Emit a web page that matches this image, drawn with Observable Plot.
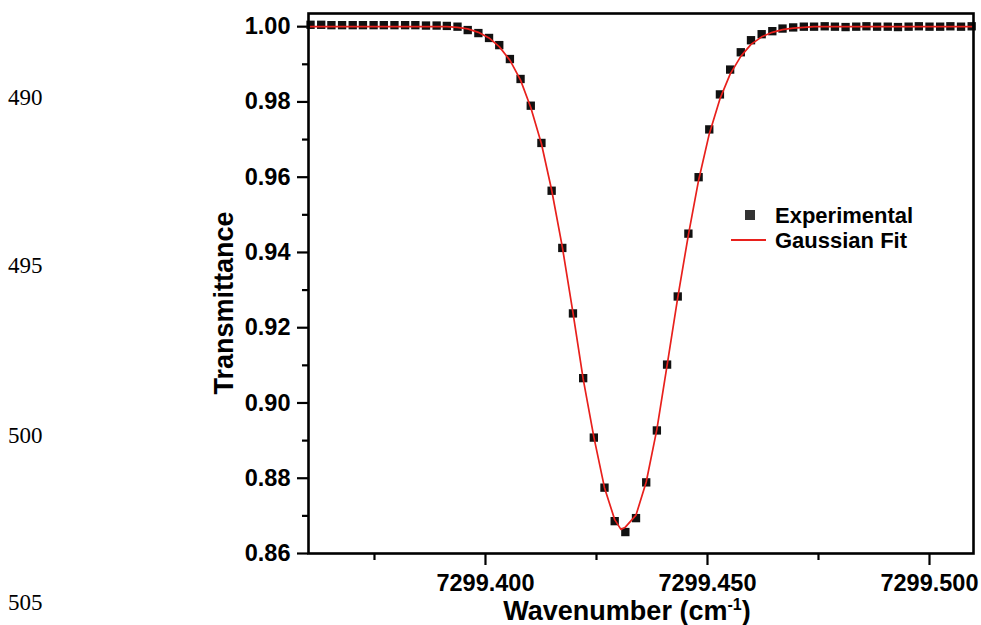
<!DOCTYPE html>
<html>
<head>
<meta charset="utf-8">
<script src="https://cdn.jsdelivr.net/npm/d3@7"></script>
<script src="https://cdn.jsdelivr.net/npm/@observablehq/plot@0.6"></script>
<style>
  html, body { margin: 0; padding: 0; background: #fff; }
  #chart { width: 981px; height: 625px; }
</style>
</head>
<body>
<div id="chart"></div>
<script>
// Experimental data (wavenumber in cm^-1, transmittance)
const wavenumber = [
  7299.3606, 7299.3630, 7299.3653, 7299.3677, 7299.3701, 7299.3724, 7299.3748, 7299.3771,
  7299.3795, 7299.3819, 7299.3842, 7299.3866, 7299.3890, 7299.3913, 7299.3937, 7299.3960,
  7299.3984, 7299.4008, 7299.4031, 7299.4055, 7299.4079, 7299.4102, 7299.4126, 7299.4149,
  7299.4173, 7299.4197, 7299.4220, 7299.4244, 7299.4268, 7299.4291, 7299.4315, 7299.4339,
  7299.4362, 7299.4386, 7299.4409, 7299.4433, 7299.4457, 7299.4480, 7299.4504, 7299.4528,
  7299.4551, 7299.4575, 7299.4598, 7299.4622, 7299.4646, 7299.4669, 7299.4693, 7299.4717,
  7299.4740, 7299.4764, 7299.4787, 7299.4811, 7299.4835, 7299.4858, 7299.4882, 7299.4906,
  7299.4929, 7299.4953, 7299.4976, 7299.5000, 7299.5024, 7299.5047, 7299.5071, 7299.5095
];
const transmittance = [
  1.0005, 1.0005, 1.0004, 1.0004, 1.0004, 1.0004, 1.0004, 1.0004,
  1.0004, 1.0004, 1.0004, 1.0003, 1.0003, 1.0002, 1.0000, 0.9991,
  0.9983, 0.9970, 0.9951, 0.9914, 0.9861, 0.9790, 0.9691, 0.9564,
  0.9412, 0.9238, 0.9066, 0.8908, 0.8775, 0.8686, 0.8657, 0.8694,
  0.8789, 0.8927, 0.9102, 0.9283, 0.9450, 0.9600, 0.9727, 0.9820,
  0.9886, 0.9932, 0.9964, 0.9980, 0.9988, 0.9995, 0.9998, 1.0000,
  1.0000, 1.0001, 1.0000, 0.9999, 1.0000, 1.0001, 1.0000, 1.0000,
  0.9999, 1.0000, 1.0001, 1.0000, 1.0000, 1.0001, 1.0000, 1.0001
];

// Gaussian fit curve
const fitWavenumber = [
  7299.3606, 7299.3630, 7299.3653, 7299.3677, 7299.3701, 7299.3724, 7299.3748, 7299.3771,
  7299.3795, 7299.3819, 7299.3842, 7299.3866, 7299.3890, 7299.3913, 7299.3937, 7299.3960,
  7299.3984, 7299.4008, 7299.4031, 7299.4055, 7299.4079, 7299.4102, 7299.4126, 7299.4149,
  7299.4173, 7299.4197, 7299.4220, 7299.4244, 7299.4268, 7299.4291, 7299.4305, 7299.4315,
  7299.4339, 7299.4362, 7299.4386, 7299.4409, 7299.4433, 7299.4457, 7299.4480, 7299.4504,
  7299.4528, 7299.4551, 7299.4575, 7299.4598, 7299.4622, 7299.4646, 7299.4669, 7299.4693,
  7299.4717, 7299.4740, 7299.4764, 7299.4787, 7299.4811, 7299.4835, 7299.4858, 7299.4882,
  7299.4906, 7299.4929, 7299.4953, 7299.4976, 7299.5000, 7299.5024, 7299.5047, 7299.5071,
  7299.5095
];
const fitTransmittance = [
  1.0000, 1.0000, 1.0000, 1.0000, 1.0000, 1.0000, 1.0000, 1.0000,
  1.0000, 1.0000, 1.0000, 1.0000, 1.0000, 1.0000, 0.9998, 0.9994,
  0.9985, 0.9970, 0.9947, 0.9911, 0.9858, 0.9785, 0.9689, 0.9566,
  0.9415, 0.9240, 0.9064, 0.8910, 0.8775, 0.8690, 0.8664, 0.8670,
  0.8702, 0.8790, 0.8930, 0.9100, 0.9280, 0.9447, 0.9592, 0.9715,
  0.9808, 0.9874, 0.9921, 0.9953, 0.9973, 0.9985, 0.9992, 0.9996,
  0.9998, 1.0000, 1.0000, 1.0000, 1.0000, 1.0000, 1.0000, 1.0000,
  1.0000, 1.0000, 1.0000, 1.0000, 1.0000, 1.0000, 1.0000, 1.0000,
  1.0000
];

// Axis ticks
const xMajorTicks = [7299.400, 7299.450, 7299.500];
const xMinorTicks = [7299.375, 7299.425, 7299.475];
const yMajorTicks = [0.86, 0.88, 0.90, 0.92, 0.94, 0.96, 0.98, 1.00];
const yMinorTicks = [0.87, 0.89, 0.91, 0.93, 0.95, 0.97, 0.99];

// Labels
const xTitle = "Wavenumber (cm";
const xTitleSup = "-1";
const yTitle = "Transmittance";
const legendLabels = ["Experimental", "Gaussian Fit"];
const lineNumbers = ["490", "495", "500", "505"];

const points = wavenumber.map((w, i) => ({w, t: transmittance[i]}));
const fit = fitWavenumber.map((w, i) => ({w, t: fitTransmittance[i]}));

const FONT = "Arial, 'Liberation Sans', Helvetica, sans-serif";
const RED = "#e8201c";

const chart = Plot.plot({
  width: 981,
  height: 625,
  marginLeft: 308,
  marginRight: 8,
  marginTop: 13,
  marginBottom: 72,
  style: {fontFamily: FONT, fontWeight: "bold", background: "#fff", color: "#000"},
  x: {domain: [7299.36014, 7299.50991]},
  y: {domain: [0.86, 1.0035]},
  marks: [
    Plot.axisY(yMinorTicks, {tickSize: 6, tickFormat: () => "", strokeWidth: 2.2, label: null}),
    Plot.axisY(yMajorTicks, {tickSize: 11, tickPadding: 7, tickFormat: d3.format(".2f"), fontSize: 23.5, fontWeight: "bold", strokeWidth: 2.2, label: null}),
    Plot.axisX(xMinorTicks, {tickSize: 7, tickFormat: () => "", strokeWidth: 2.2, label: null}),
    Plot.axisX(xMajorTicks, {tickSize: 12, tickPadding: 9, tickFormat: d3.format(".3f"), fontSize: 23.5, fontWeight: "bold", strokeWidth: 2.2, label: null}),
    Plot.dot(points, {x: "w", y: "t", symbol: "square", r: 4.7, fill: "#111", stroke: null}),
    Plot.line(fit, {x: "w", y: "t", stroke: RED, strokeWidth: 1.7, curve: "linear"}),
    Plot.frame({stroke: "#000", strokeWidth: 2.6})
  ]
});

document.getElementById("chart").appendChild(chart);

const svg = d3.select(chart);

// Axis titles
svg.append("text")
  .attr("transform", "translate(233,303) rotate(-90)")
  .attr("text-anchor", "middle")
  .attr("font-family", FONT)
  .attr("font-weight", "bold")
  .attr("font-size", 27)
  .attr("fill", "#000")
  .text(yTitle);

const xt = svg.append("text")
  .attr("x", 627)
  .attr("y", 620)
  .attr("text-anchor", "middle")
  .attr("font-family", FONT)
  .attr("font-weight", "bold")
  .attr("font-size", 27)
  .attr("fill", "#000");
xt.append("tspan").text(xTitle);
xt.append("tspan").attr("font-size", 16).attr("dy", -10).text(xTitleSup);
xt.append("tspan").attr("dy", 10).text(")");

// Legend
const lg = svg.append("g")
  .attr("font-family", FONT).attr("font-weight", "bold").attr("font-size", 22)
  .attr("text-anchor", "start");
lg.append("rect").attr("x", 745).attr("y", 210).attr("width", 10).attr("height", 10).attr("fill", "#333");
lg.append("text").attr("x", 775).attr("y", 223).attr("fill", "#000").text(legendLabels[0]);
lg.append("line").attr("x1", 731).attr("x2", 766).attr("y1", 240).attr("y2", 240).attr("stroke", RED).attr("stroke-width", 2);
lg.append("text").attr("x", 775).attr("y", 248).attr("fill", "#000").text(legendLabels[1]);

// Manuscript line numbers in the left margin
const lnY = [105, 273, 443, 610];
const ln = svg.append("g")
  .attr("font-family", "'Times New Roman', 'Liberation Serif', serif")
  .attr("font-weight", "normal").attr("font-size", 23)
  .attr("text-anchor", "start");
lineNumbers.forEach((s, i) => {
  ln.append("text").attr("x", 8).attr("y", lnY[i]).attr("fill", "#000").text(s);
});
</script>
</body>
</html>
